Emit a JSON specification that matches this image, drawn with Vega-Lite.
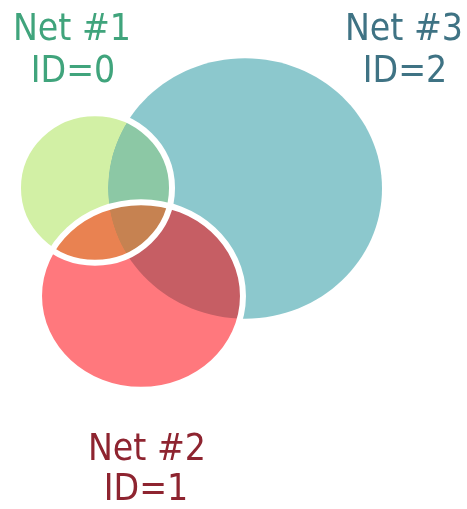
{
  "$schema": "https://vega.github.io/schema/vega-lite/v6.json",
  "width": 467,
  "height": 509,
  "autosize": {"type": "fit", "contains": "padding"},
  "padding": 0,
  "background": "white",
  "config": {"view": {"stroke": null}},
  "datasets": {
    "circles": [
      {"net": "Net #3", "x": 245, "y": 320.5, "members": 100},
      {"net": "Net #1", "x": 95, "y": 321, "members": 31.6},
      {"net": "Net #2", "x": 141, "y": 213, "members": 55.4}
    ],
    "labels": [
      {"net": "Net #1", "x": 72, "y": 469, "text": "Net #1"},
      {"net": "Net #1", "x": 73, "y": 427, "text": "ID=0"},
      {"net": "Net #3", "x": 404, "y": 469, "text": "Net #3"},
      {"net": "Net #3", "x": 405, "y": 427, "text": "ID=2"},
      {"net": "Net #2", "x": 147, "y": 49, "text": "Net #2"},
      {"net": "Net #2", "x": 146, "y": 9, "text": "ID=1"}
    ]
  },
  "encoding": {
    "x": {"field": "x", "type": "quantitative", "scale": {"domain": [0, 467], "nice": false, "zero": false}, "axis": null},
    "y": {"field": "y", "type": "quantitative", "scale": {"domain": [0, 509], "nice": false, "zero": false}, "axis": null}
  },
  "layer": [
    {
      "data": {"name": "circles"},
      "transform": [{"filter": "datum.net == 'Net #3'"}],
      "mark": {"type": "point", "filled": true, "opacity": 1, "color": "#8cc8cd", "strokeWidth": 0},
      "encoding": {
        "size": {"field": "members", "type": "quantitative", "scale": {"type": "linear", "domain": [0, 100], "range": [0, 75076], "zero": true}, "legend": null},
        "shape": {"field": "net", "type": "nominal", "scale": {"domain": ["Net #1", "Net #2", "Net #3"], "range": ["M-1,0A1,0.97 0 1,1 1,0A1,0.97 0 1,1 -1,0Z", "M-1,0A1,0.92 0 1,1 1,0A1,0.92 0 1,1 -1,0Z", "M-1,0A1,0.95 0 1,1 1,0A1,0.95 0 1,1 -1,0Z"]}, "legend": null}
      }
    },
    {
      "data": {"name": "circles"},
      "transform": [{"filter": "datum.net == 'Net #1'"}],
      "mark": {"type": "point", "filled": true, "opacity": 1, "color": "#d2f0a5", "strokeWidth": 0, "blend": "darken"},
      "encoding": {
        "size": {"field": "members", "type": "quantitative", "scale": {"type": "linear", "domain": [0, 100], "range": [0, 75076], "zero": true}, "legend": null},
        "shape": {"field": "net", "type": "nominal", "scale": {"domain": ["Net #1", "Net #2", "Net #3"], "range": ["M-1,0A1,0.97 0 1,1 1,0A1,0.97 0 1,1 -1,0Z", "M-1,0A1,0.92 0 1,1 1,0A1,0.92 0 1,1 -1,0Z", "M-1,0A1,0.95 0 1,1 1,0A1,0.95 0 1,1 -1,0Z"]}, "legend": null}
      }
    },
    {
      "data": {"name": "circles"},
      "transform": [{"filter": "datum.net == 'Net #2'"}],
      "mark": {"type": "point", "filled": true, "opacity": 0.5, "color": "#ff0000", "strokeWidth": 0},
      "encoding": {
        "size": {"field": "members", "type": "quantitative", "scale": {"type": "linear", "domain": [0, 100], "range": [0, 75076], "zero": true}, "legend": null},
        "shape": {"field": "net", "type": "nominal", "scale": {"domain": ["Net #1", "Net #2", "Net #3"], "range": ["M-1,0A1,0.97 0 1,1 1,0A1,0.97 0 1,1 -1,0Z", "M-1,0A1,0.92 0 1,1 1,0A1,0.92 0 1,1 -1,0Z", "M-1,0A1,0.95 0 1,1 1,0A1,0.95 0 1,1 -1,0Z"]}, "legend": null}
      }
    },
    {
      "data": {"name": "circles"},
      "transform": [{"filter": "datum.net == 'Net #2'"}],
      "mark": {"type": "point", "filled": true, "opacity": 1, "color": "#fff0fa", "strokeWidth": 0, "blend": "multiply"},
      "encoding": {
        "size": {"field": "members", "type": "quantitative", "scale": {"type": "linear", "domain": [0, 100], "range": [0, 75076], "zero": true}, "legend": null},
        "shape": {"field": "net", "type": "nominal", "scale": {"domain": ["Net #1", "Net #2", "Net #3"], "range": ["M-1,0A1,0.97 0 1,1 1,0A1,0.97 0 1,1 -1,0Z", "M-1,0A1,0.92 0 1,1 1,0A1,0.92 0 1,1 -1,0Z", "M-1,0A1,0.95 0 1,1 1,0A1,0.95 0 1,1 -1,0Z"]}, "legend": null}
      }
    },
    {
      "data": {"name": "circles"},
      "transform": [{"filter": "datum.net == 'Net #1'"}],
      "mark": {"type": "point", "filled": true, "opacity": 1, "color": "#008200", "strokeWidth": 0, "blend": "lighten"},
      "encoding": {
        "size": {"field": "members", "type": "quantitative", "scale": {"type": "linear", "domain": [0, 100], "range": [0, 75076], "zero": true}, "legend": null},
        "shape": {"field": "net", "type": "nominal", "scale": {"domain": ["Net #1", "Net #2", "Net #3"], "range": ["M-1,0A1,0.97 0 1,1 1,0A1,0.97 0 1,1 -1,0Z", "M-1,0A1,0.92 0 1,1 1,0A1,0.92 0 1,1 -1,0Z", "M-1,0A1,0.95 0 1,1 1,0A1,0.95 0 1,1 -1,0Z"]}, "legend": null}
      }
    },
    {
      "data": {"name": "circles"},
      "transform": [{"filter": "datum.net != 'Net #3'"}],
      "mark": {"type": "point", "filled": false, "opacity": 1, "stroke": "#ffffff", "strokeWidth": 6},
      "encoding": {
        "size": {"field": "members", "type": "quantitative", "scale": {"type": "linear", "domain": [0, 100], "range": [0, 75076], "zero": true}, "legend": null},
        "shape": {"field": "net", "type": "nominal", "scale": {"domain": ["Net #1", "Net #2", "Net #3"], "range": ["M-1,0A1,0.97 0 1,1 1,0A1,0.97 0 1,1 -1,0Z", "M-1,0A1,0.92 0 1,1 1,0A1,0.92 0 1,1 -1,0Z", "M-1,0A1,0.95 0 1,1 1,0A1,0.95 0 1,1 -1,0Z"]}, "legend": null}
      }
    },
    {
      "data": {"name": "labels"},
      "mark": {"type": "text", "align": "center", "baseline": "alphabetic", "font": "DejaVu Sans Condensed, DejaVu Sans", "fontSize": 37},
      "encoding": {
        "text": {"field": "text"},
        "color": {"field": "net", "type": "nominal", "scale": {"domain": ["Net #1", "Net #2", "Net #3"], "range": ["#40a47c", "#8e2430", "#3f7384"]}, "legend": null}
      }
    }
  ]
}
